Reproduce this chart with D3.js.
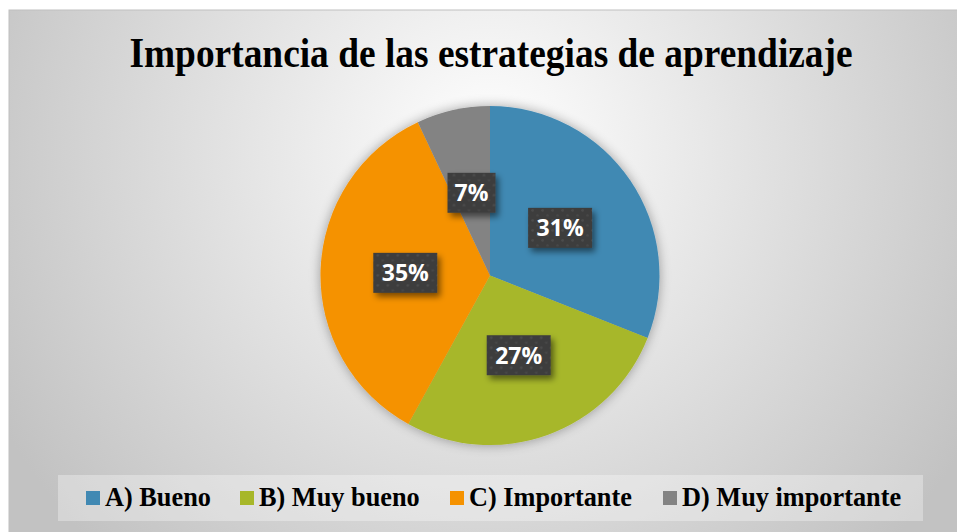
<!DOCTYPE html>
<html><head><meta charset="utf-8">
<script src="https://cdn.jsdelivr.net/npm/d3@7"></script>
<style>html,body{margin:0;padding:0;background:#fff;}svg{display:block;}</style>
</head><body>
<svg id="chart" width="957" height="532"></svg>
<script>
const categories = ["A) Bueno", "B) Muy bueno", "C) Importante", "D) Muy importante"];
const values = [31, 27, 35, 7];
const labels = ["31%", "27%", "35%", "7%"];
const colors = ["#4189b3", "#a7b729", "#f59200", "#838383"];
const title = "Importancia de las estrategias de aprendizaje";

const W = 957, H = 532;
const svg = d3.select("#chart");
const defs = svg.append("defs");

const rg = defs.append("radialGradient").attr("id","bg").attr("gradientUnits","userSpaceOnUse")
  .attr("cx",490).attr("cy",150).attr("r",560);
rg.append("stop").attr("offset","0%").attr("stop-color","#ffffff");
rg.append("stop").attr("offset","100%").attr("stop-color","#c2c2c2");

const pf = defs.append("filter").attr("id","pieShadow").attr("x","-30%").attr("y","-30%").attr("width","160%").attr("height","160%");
pf.append("feGaussianBlur").attr("in","SourceAlpha").attr("stdDeviation",6).attr("result","b");
pf.append("feComponentTransfer").attr("in","b").attr("result","b2").append("feFuncA").attr("type","linear").attr("slope",0.35);
const pm = pf.append("feMerge"); pm.append("feMergeNode").attr("in","b2"); pm.append("feMergeNode").attr("in","SourceGraphic");

const lf = defs.append("filter").attr("id","lblShadow").attr("x","-30%").attr("y","-30%").attr("width","170%").attr("height","180%");
lf.append("feGaussianBlur").attr("in","SourceAlpha").attr("stdDeviation",3).attr("result","b");
lf.append("feOffset").attr("in","b").attr("dx",3).attr("dy",4).attr("result","o");
lf.append("feComponentTransfer").attr("in","o").attr("result","o2").append("feFuncA").attr("type","linear").attr("slope",0.5);
const lm = lf.append("feMerge"); lm.append("feMergeNode").attr("in","o2"); lm.append("feMergeNode").attr("in","SourceGraphic");

const pat = defs.append("pattern").attr("id","dots").attr("patternUnits","userSpaceOnUse").attr("width",10).attr("height",10);
pat.append("rect").attr("width",10).attr("height",10).attr("fill","#3d3d3d");
pat.append("circle").attr("cx",2.5).attr("cy",2.5).attr("r",1.3).attr("fill","#4d4d4d");
pat.append("circle").attr("cx",7.5).attr("cy",7.5).attr("r",1.3).attr("fill","#474747");

// background frame
svg.append("rect").attr("x",9).attr("y",10).attr("width",W).attr("height",H).attr("fill","url(#bg)")
  .attr("stroke","#c0c0c0").attr("stroke-width",1);

svg.append("text").attr("transform","translate(491,67) scale(1,1.15)").attr("text-anchor","middle")
  .attr("font-family","'Liberation Serif', 'Times New Roman', serif").attr("font-weight","bold")
  .attr("font-size",37.4).attr("fill","#000").text(title);

const cx = 490, cy = 275.5, R = 169.5;
const pie = d3.pie().sort(null).value(d => d);
const arcs = pie(values);
const arc = d3.arc().innerRadius(0).outerRadius(R);
const g = svg.append("g").attr("transform",`translate(${cx},${cy})`);
g.append("g").attr("filter","url(#pieShadow)").selectAll("path").data(arcs).join("path")
  .attr("d",arc).attr("fill",(d,i)=>colors[i]);

const lg = g.selectAll("g.lbl").data(arcs).join("g").attr("class","lbl")
  .attr("transform",d=>{const c=arc.centroid(d);return `translate(${c[0]},${c[1]})`;});
const boxW = i => labels[i].length > 2 ? 64 : 48;
lg.append("rect").attr("x",(d,i)=>-boxW(i)/2).attr("y",-20).attr("width",(d,i)=>boxW(i)).attr("height",40)
  .attr("fill","url(#dots)").attr("filter","url(#lblShadow)");
lg.append("text").attr("text-anchor","middle").attr("dy","0.36em")
  .attr("font-family","'Open Sans', sans-serif").attr("font-weight","bold").attr("font-size",23)
  .attr("fill","#fff").text((d,i)=>labels[i]);

// legend
svg.append("rect").attr("x",58).attr("y",475).attr("width",865).attr("height",46).attr("fill","#fff").attr("fill-opacity",0.32);
const legX = [86, 240, 450, 663];
const leg = svg.selectAll("g.leg").data(categories).join("g").attr("class","leg")
  .attr("transform",(d,i)=>`translate(${legX[i]},491)`);
leg.append("rect").attr("width",14).attr("height",14).attr("fill",(d,i)=>colors[i]);
leg.append("text").attr("x",19).attr("y",15)
  .attr("font-family","'Liberation Serif', 'Times New Roman', serif").attr("font-weight","bold")
  .attr("font-size",26.3).attr("fill","#000").text(d=>d);
</script>
</body></html>
